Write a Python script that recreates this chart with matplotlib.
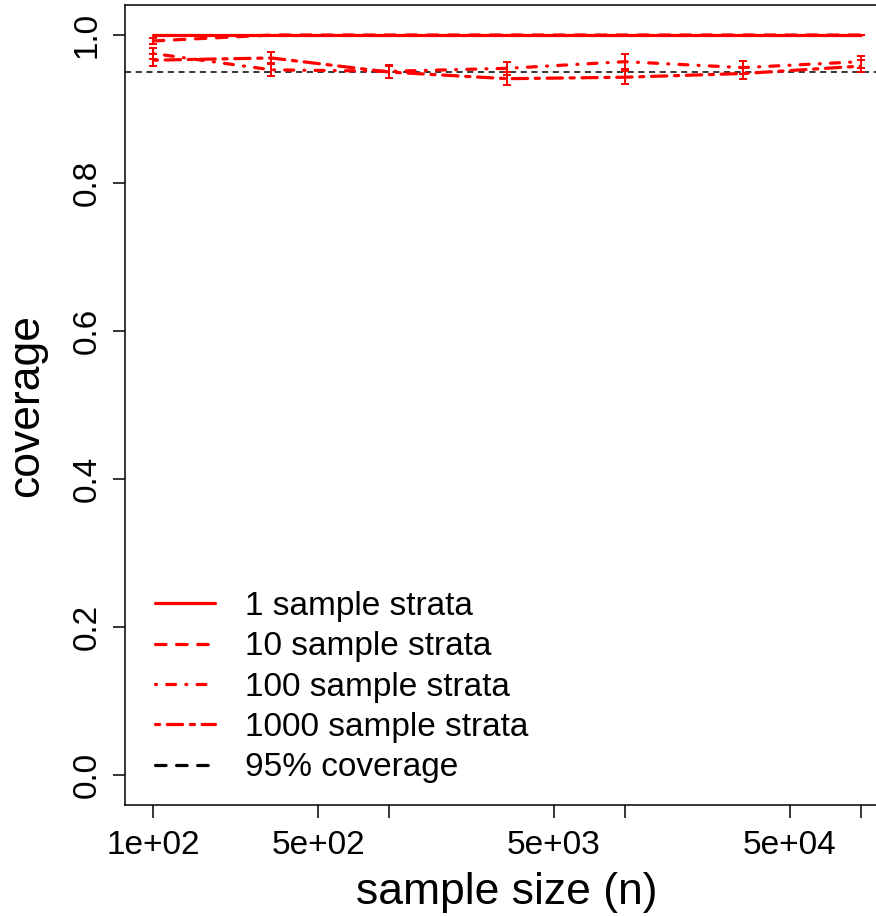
import matplotlib
matplotlib.use("Agg")
import matplotlib.pyplot as plt
from matplotlib.lines import Line2D

plt.rcParams['font.family'] = ['Liberation Sans', 'DejaVu Sans']

# sample sizes (log spaced)
n = [100, 316, 1000, 3162, 10000, 31623, 100000]

cov1 = [1.0, 1.0, 1.0, 1.0, 1.0, 1.0, 1.0]
err1 = [0, 0, 0, 0, 0, 0, 0]
cov10 = [0.992, 1.0, 1.0, 1.0, 1.0, 1.0, 1.0]
err10 = [0.004, 0, 0, 0, 0, 0, 0]
cov100 = [0.975, 0.953, 0.951, 0.955, 0.964, 0.956, 0.964]
err100 = [0.008, 0.009, 0.009, 0.009, 0.010, 0.009, 0.008]
cov1000 = [0.966, 0.969, 0.950, 0.941, 0.943, 0.948, 0.958]
err1000 = [0.008, 0.008, 0.008, 0.009, 0.009, 0.008, 0.008]

labels = ["1 sample strata", "10 sample strata", "100 sample strata", "1000 sample strata"]
target = 0.95

W, H = 876, 916
fig = plt.figure(figsize=(W / 100, H / 100), dpi=100)
ax = fig.add_axes([125 / W, (H - 805) / H, (889 - 125) / W, (805 - 5.4) / H])

red = "#ff0000"
lw = 2.3
styles = ["-", (0, (3.3, 3.3)), (0, (0.3, 3.2, 2.8, 3.2)), (0, (1.3, 2.4, 4.8, 2.4))]
series = [(cov1, err1), (cov10, err10), (cov100, err100), (cov1000, err1000)]

ax.axhline(target, color="black", lw=1.1, ls=(0, (4, 3)), zorder=1)
lines = []
for (c, e), ls, lab in zip(series, styles, labels):
    ln, = ax.plot(n, c, color=red, lw=lw, ls=ls, label=lab,
                  dash_capstyle="round", solid_capstyle="round", zorder=2)
    lines.append(ln)
    if any(e):
        ax.errorbar(n, c, yerr=e, fmt="none", ecolor=red, elinewidth=1.4,
                    capsize=3, capthick=1.4, zorder=3)

ax.set_xscale("log")
ax.set_xlim(10 ** 1.88, 10 ** 5.12)
ax.set_ylim(-0.04, 1.04)
ax.set_xticks([100, 500, 1000, 5000, 10000, 50000, 100000])
ax.set_xticklabels(["1e+02", "5e+02", "", "5e+03", "", "5e+04", ""])
ax.minorticks_off()
ax.set_yticks([0.0, 0.2, 0.4, 0.6, 0.8, 1.0])
ax.set_yticklabels(["0.0", "0.2", "0.4", "0.6", "0.8", "1.0"])
plt.setp(ax.get_yticklabels(), rotation=90, va="center")
ax.tick_params(labelsize=24, length=9, width=1.1)
ax.tick_params(axis="x", pad=9)
ax.tick_params(axis="y", pad=7)

for s in ax.spines.values():
    s.set_linewidth(1.1)

ax.set_xlabel("sample size (n)", fontsize=32, labelpad=8)
ax.set_ylabel("coverage", fontsize=32, labelpad=18)

ref_handle = Line2D([], [], color="black", lw=lw, ls=(0, (3.3, 3.3)), dash_capstyle="round")
ax.legend(lines + [ref_handle], labels + ["95% coverage"], loc="lower left", frameon=False,
          fontsize=24, handlelength=1.8, handletextpad=0.9, labelspacing=0.28,
          borderpad=0, borderaxespad=0, bbox_to_anchor=(0.039, 0.027))

fig.savefig("out.png", dpi=100)
